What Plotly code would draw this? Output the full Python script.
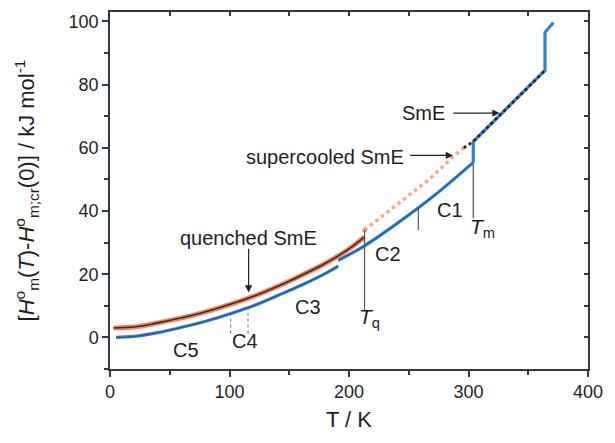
import plotly.graph_objects as go

# Crystal phase (C5 ... C2, C1), below and above the small step near 191 K
t_cr_low = [5, 20, 40, 60, 80, 100, 120, 140, 160, 180, 191]
h_cr_low = [0.0, 0.3, 1.5, 3.2, 5.1, 7.4, 10.0, 13.2, 16.5, 20.2, 22.6]
t_cr_high = [191, 213, 240, 270, 304]
h_cr_high = [24.4, 29.0, 36.0, 44.5, 55.4]

# Melting at Tm, SmE liquid crystal, clearing and isotropic liquid
t_melt = [304, 304, 324, 344, 364, 364, 371]
h_melt = [55.4, 62.0, 69.5, 77.0, 84.5, 96.5, 99.7]

# SmE experimental points (including the supercooled part)
t_sme = [296, 304, 324, 344, 364]
h_sme = [60.0, 62.0, 69.5, 77.0, 84.5]

# Quenched SmE (glass) up to Tq
t_q = [3, 20, 40, 60, 80, 100, 120, 140, 160, 180, 200, 213]
h_q = [3.0, 3.3, 4.6, 6.2, 8.1, 10.4, 13.0, 16.1, 19.6, 23.4, 28.0, 31.8]

# Supercooled SmE between Tq and the SmE points
t_sc = [213, 239, 266, 291, 297]
h_sc = [34.0, 41.8, 49.7, 58.5, 60.3]

# Marker lines: (T, H_top, H_bottom)
tq_line = (213, 34.0, 8.5)
tm_line = (304, 55.4, 37.7)
c1_line = (258, 40.8, 34.0)
c4_lines = [(101, 7.4, 1.2), (115.5, 9.1, 1.2)]

# Phase labels: (text, T, H)
phase_labels = [
    ("C1", 284.5, 40.2),
    ("C2", 232.6, 26.3),
    ("C3", 165.8, 9.5),
    ("C4", 113.0, -1.0),
    ("C5", 63.5, -4.1),
]

BLUE = "#3280d0"
ORANGE = "#f0875e"
DARK = "#3b2a22"
AXIS = "#2e3a44"
GREY = "#555555"
FONT = "Liberation Sans, Arial, sans-serif"

fig = go.Figure()

# Supercooled SmE (dotted orange)
fig.add_trace(go.Scatter(x=t_sc, y=h_sc, mode="lines",
                         line=dict(color=ORANGE, width=3.5, dash="dot"),
                         opacity=0.7, hoverinfo="skip"))

# Quenched SmE: orange band with dark centre
fig.add_trace(go.Scatter(x=t_q, y=h_q, mode="lines", line_shape="spline",
                         line=dict(color=ORANGE, width=5), hoverinfo="skip"))
fig.add_trace(go.Scatter(x=t_q, y=h_q, mode="lines", line_shape="spline",
                         line=dict(color=DARK, width=1.6), hoverinfo="skip"))

# Crystal and high-temperature branches (blue)
for tx, hy, shape in [(t_cr_low, h_cr_low, "spline"),
                      (t_cr_high, h_cr_high, "spline"),
                      (t_melt, h_melt, "linear")]:
    fig.add_trace(go.Scatter(x=tx, y=hy, mode="lines", line_shape=shape,
                             line=dict(color=BLUE, width=3.2), hoverinfo="skip"))
for tx, hy in [(t_cr_low, h_cr_low), (t_cr_high, h_cr_high)]:
    fig.add_trace(go.Scatter(x=tx, y=hy, mode="lines", line_shape="spline",
                             line=dict(color="rgba(20,40,90,0.55)", width=1),
                             hoverinfo="skip"))

# SmE points (dark dots on the blue line)
fig.add_trace(go.Scatter(x=t_sme, y=h_sme, mode="lines",
                         line=dict(color="#1c2530", width=2.6, dash="dot"),
                         hoverinfo="skip"))

# Tq orange end marker
fig.add_trace(go.Scatter(x=[t_q[-1]], y=[h_sc[0]], mode="markers",
                         marker=dict(color=ORANGE, size=5, opacity=0.7),
                         hoverinfo="skip"))

# Vertical marker lines
for tx, top, bot in [tq_line, tm_line, c1_line]:
    fig.add_shape(type="line", x0=tx, x1=tx, y0=bot, y1=top,
                  line=dict(color=GREY, width=1.2))
for tx, top, bot in c4_lines:
    fig.add_shape(type="line", x0=tx, x1=tx, y0=bot, y1=top,
                  line=dict(color="#5577aa", width=1, dash="dot"))

lab_font = dict(family=FONT, size=20, color="#1e1e1e")

for text, tx, hy in phase_labels:
    fig.add_annotation(x=tx, y=hy, text=text, showarrow=False, font=lab_font)

fig.add_annotation(x=212.8, y=6.3, text="<i>T</i><sub>q</sub>", showarrow=False,
                   font=dict(family=FONT, size=21, color="#1e1e1e"),
                   xanchor="left", xshift=-7)
fig.add_annotation(x=303.5, y=34.5, text="<i>T</i><sub>m</sub>", showarrow=False,
                   font=dict(family=FONT, size=21, color="#1e1e1e"),
                   xanchor="left", xshift=-5)

# Labelled arrows
fig.add_annotation(x=115.5, y=31.6, text="quenched SmE", showarrow=False,
                   font=lab_font)
fig.add_annotation(x=116, y=14.2, ax=116, ay=28.5, axref="x", ayref="y",
                   text="", showarrow=True, arrowhead=2, arrowsize=1.2,
                   arrowwidth=1.2, arrowcolor="#222")

fig.add_annotation(x=247.5, y=57.0, text="supercooled SmE", showarrow=False,
                   font=lab_font, xanchor="right")
fig.add_annotation(x=287, y=57.6, ax=250, ay=57.6, axref="x", ayref="y",
                   text="", showarrow=True, arrowhead=2, arrowsize=1.2,
                   arrowwidth=1.2, arrowcolor="#222")

fig.add_annotation(x=282, y=70.9, text="SmE", showarrow=False,
                   font=lab_font, xanchor="right")
fig.add_annotation(x=326, y=71.0, ax=286, ay=71.0, axref="x", ayref="y",
                   text="", showarrow=True, arrowhead=2, arrowsize=1.2,
                   arrowwidth=1.2, arrowcolor="#222")

tick_font = dict(family=FONT, size=18, color="#1e1e1e")
common = dict(showgrid=False, zeroline=False, showline=True, linecolor=AXIS,
              linewidth=1.5, tickcolor=AXIS, tickwidth=1.5)

fig.update_layout(
    width=615, height=443,
    margin=dict(l=110, r=20, t=12, b=74),
    paper_bgcolor="white", plot_bgcolor="white",
    showlegend=False,
    xaxis=dict(range=[0, 400], tickvals=[0, 100, 200, 300, 400], ticks="outside",
               ticklen=6, minor=dict(dtick=50, ticks="outside", ticklen=4,
                                     tickcolor=AXIS, tickwidth=1.5),
               tickfont=tick_font,
               title=dict(text="T / K", font=dict(family=FONT, size=22,
                                                  color="#1e1e1e"), standoff=10),
               **common),
    yaxis=dict(range=[-10, 103], tickvals=[0, 20, 40, 60, 80, 100], ticks="outside",
               ticklen=6, minor=dict(dtick=10, tick0=0, ticks="outside", ticklen=4,
                                     tickcolor=AXIS, tickwidth=1.5),
               tickfont=tick_font,
               title=dict(text="[<i>H</i><sup>o</sup><sub>m</sub>(<i>T</i>)-"
                               "<i>H</i><sup>o</sup><sub>m;cr</sub>(0)] / kJ mol<sup>-1</sup>",
                          font=dict(family=FONT, size=22, color="#1e1e1e"),
                          standoff=28),
               **common),
    xaxis2=dict(range=[0, 400], overlaying="x", side="top", dtick=50, tick0=0,
                ticks="inside", ticklen=4, showticklabels=False, **common),
    yaxis2=dict(range=[-10, 103], overlaying="y", side="right", dtick=10, tick0=0,
                ticks="inside", ticklen=4, showticklabels=False, **common),
)

# Invisible trace to activate the mirrored frame axes
fig.add_trace(go.Scatter(x=[0], y=[0], xaxis="x2", yaxis="y2", mode="markers",
                         marker=dict(opacity=0), hoverinfo="skip"))

fig.write_html("out.html")
